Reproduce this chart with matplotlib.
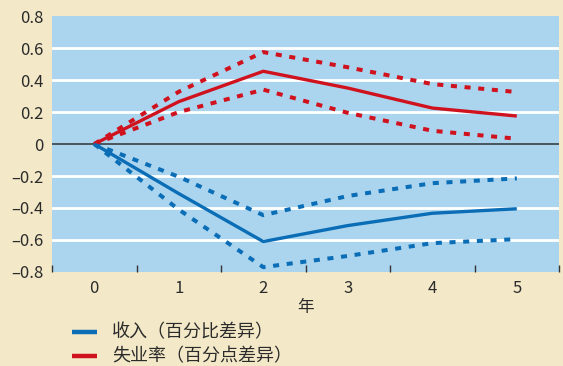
import matplotlib
matplotlib.use('Agg')
import matplotlib.pyplot as plt
from matplotlib.lines import Line2D

plt.rcParams['font.family'] = ['Noto Sans CJK SC', 'DejaVu Sans']

years = [0, 1, 2, 3, 4, 5]

# unemployment rate (percentage point difference)
unemp = [0, 0.265, 0.455, 0.35, 0.225, 0.175]
unemp_hi = [0, 0.327, 0.575, 0.48, 0.375, 0.325]
unemp_lo = [0, 0.20, 0.34, 0.195, 0.083, 0.033]

# income (percent difference)
income = [0, -0.31, -0.61, -0.51, -0.433, -0.405]
income_hi = [0, -0.205, -0.445, -0.325, -0.245, -0.215]
income_lo = [0, -0.41, -0.77, -0.70, -0.62, -0.595]

yticks = [-0.8, -0.6, -0.4, -0.2, 0, 0.2, 0.4, 0.6, 0.8]
ytick_labels = ['–0.8', '–0.6', '–0.4', '–0.2', '0', '0.2', '0.4', '0.6', '0.8']

legend_labels = ['收入（百分比差异）', '失业率（百分点差异）']

bg = '#F3E8C7'
panel = '#ABD5EF'
red = '#D0121E'
blue = '#0A6DB6'
txt = '#2B2B2B'

W, H = 563, 366
fig = plt.figure(figsize=(W / 100, H / 100), dpi=100, facecolor=bg)
ax = fig.add_axes([0.0924, 0.257, 0.9006, 0.699])
ax.set_facecolor(panel)

for y in yticks:
    if y not in (0, -0.8, 0.8):
        ax.axhline(y, color='white', lw=2, zorder=1)
ax.axhline(0, color='#3A3F44', lw=1.2, zorder=2)

dot = (0, (1.5, 1.9))
ax.plot(years, unemp, color=red, lw=2.4, solid_capstyle='butt', zorder=4)
ax.plot(years, unemp_hi, color=red, lw=2.9, linestyle=dot, dash_capstyle='butt', zorder=3)
ax.plot(years, unemp_lo, color=red, lw=2.9, linestyle=dot, dash_capstyle='butt', zorder=3)
ax.plot(years, income, color=blue, lw=2.4, solid_capstyle='butt', zorder=4)
ax.plot(years, income_hi, color=blue, lw=2.9, linestyle=dot, dash_capstyle='butt', zorder=3)
ax.plot(years, income_lo, color=blue, lw=2.9, linestyle=dot, dash_capstyle='butt', zorder=3)

ax.set_xlim(-0.5, 5.5)
ax.set_ylim(-0.8, 0.8)
for s in ax.spines.values():
    s.set_visible(False)

ax.set_xticks(years)
ax.set_xticklabels([str(y) for y in years], fontsize=12, color=txt)
ax.set_xticks([y - 0.5 for y in years] + [5.5], minor=True)
ax.tick_params(axis='x', which='major', length=0, pad=6)
ax.tick_params(axis='x', which='minor', direction='in', length=5, width=1, color='#333333')
ax.set_yticks(yticks)
ax.set_yticklabels(ytick_labels, fontsize=12, color=txt)
ax.tick_params(axis='y', length=0, pad=6)

ax.set_xlabel('年', fontsize=12, color=txt, labelpad=1)

# legend drawn by hand in pixel positions
for i, (lab, col) in enumerate(zip(legend_labels, [blue, red])):
    yp = 1 - (332 + 24 * i) / H
    fig.add_artist(Line2D([72 / W, 97 / W], [yp, yp], color=col, lw=3.2,
                          solid_capstyle='butt', transform=fig.transFigure))
    fig.text(112 / W, yp, lab, fontsize=13, color=txt, va='center', ha='left')

fig.savefig('out.png', dpi=100, facecolor=bg)
